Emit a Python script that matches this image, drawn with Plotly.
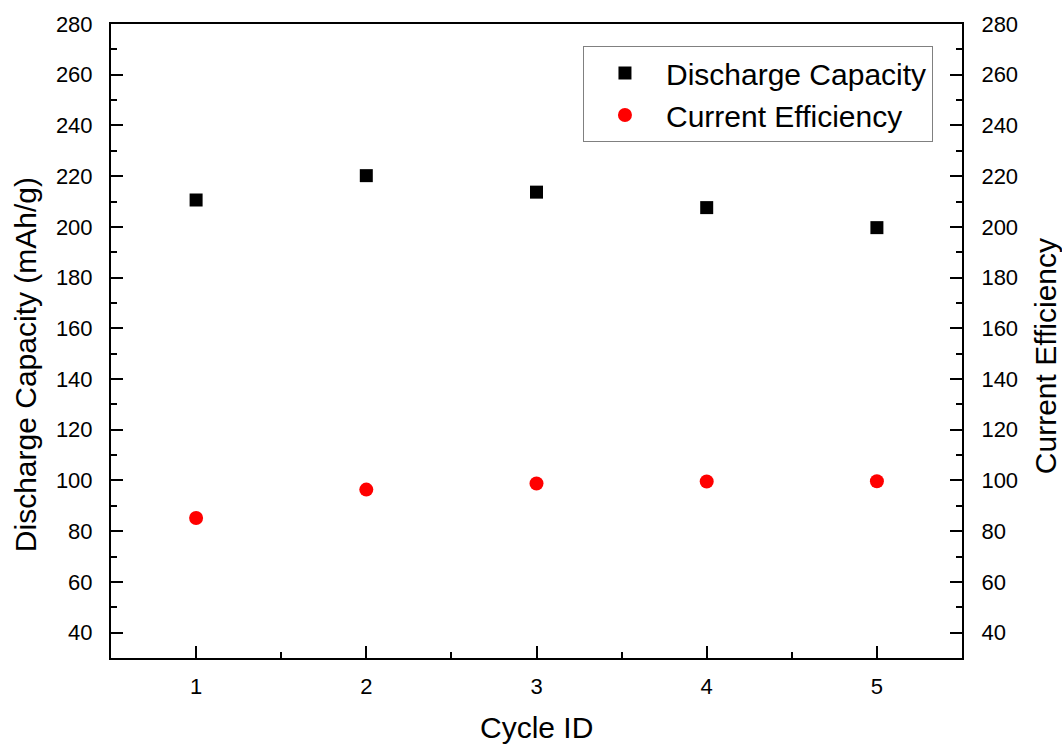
import plotly.graph_objects as go

cycle_id = [1, 2, 3, 4, 5]
discharge_capacity = [210.6, 220.2, 213.7, 207.6, 199.7]
current_efficiency = [85.2, 96.4, 98.8, 99.6, 99.7]
y_ticks = [40, 60, 80, 100, 120, 140, 160, 180, 200, 220, 240, 260, 280]

FONT = "Liberation Sans, Arial, sans-serif"

fig = go.Figure()
fig.add_trace(go.Scatter(
    x=cycle_id, y=discharge_capacity, mode="markers", name="Discharge Capacity",
    marker=dict(symbol="square", size=13, color="black"), yaxis="y"))
fig.add_trace(go.Scatter(
    x=cycle_id, y=current_efficiency, mode="markers", name="Current Efficiency",
    marker=dict(symbol="circle", size=14, color="#ff0000"), yaxis="y2"))

axis_common = dict(showgrid=False, zeroline=False, showline=True, linecolor="black",
                   linewidth=2, ticks="inside", ticklen=12, tickwidth=2, tickcolor="black",
                   tickfont=dict(family=FONT, size=22, color="black"))

fig.update_layout(
    width=1062, height=745,
    margin=dict(l=111, r=100, t=24, b=87),
    paper_bgcolor="white", plot_bgcolor="white",
    font=dict(family=FONT, color="black"),
    xaxis=dict(range=[0.5, 5.5], tickmode="array", tickvals=cycle_id,
               ticktext=[str(c) for c in cycle_id], mirror=True,
               minor=dict(tickvals=[1.5, 2.5, 3.5, 4.5], ticks="inside", ticklen=6,
                          tickwidth=2, tickcolor="black"),
               ticklabelstandoff=8,
               **axis_common),
    yaxis=dict(range=[30, 280], tickmode="array", tickvals=y_ticks,
               minor=dict(dtick=10, tick0=30, ticks="inside", ticklen=6, tickwidth=2, tickcolor="black"),
               ticklabelstandoff=12,
               **axis_common),
    yaxis2=dict(range=[30, 280], tickmode="array", tickvals=y_ticks, overlaying="y", side="right",
                minor=dict(dtick=10, tick0=30, ticks="inside", ticklen=6, tickwidth=2, tickcolor="black"),
                ticklabelstandoff=13,
                **axis_common),
    legend=dict(x=0.5546, y=0.9653, xanchor="left", yanchor="top",
                bordercolor="#808080", borderwidth=1, bgcolor="white",
                font=dict(family=FONT, size=30, color="black"),
                tracegroupgap=0, itemwidth=72),
    showlegend=True,
    annotations=[
        dict(text="Cycle ID", xref="paper", yref="paper", x=0.5, y=-0.1104,
             xanchor="center", yanchor="middle", showarrow=False,
             font=dict(family=FONT, size=30, color="black")),
        dict(text="Discharge Capacity (mAh/g)", xref="paper", yref="paper", x=-0.101, y=0.462,
             xanchor="center", yanchor="middle", textangle=-90, showarrow=False,
             font=dict(family=FONT, size=30, color="black")),
        dict(text="Current Efficiency", xref="paper", yref="paper", x=1.0975, y=0.476,
             xanchor="center", yanchor="middle", textangle=-90, showarrow=False,
             font=dict(family=FONT, size=30, color="black")),
    ],
)

fig.write_html("out.html")
